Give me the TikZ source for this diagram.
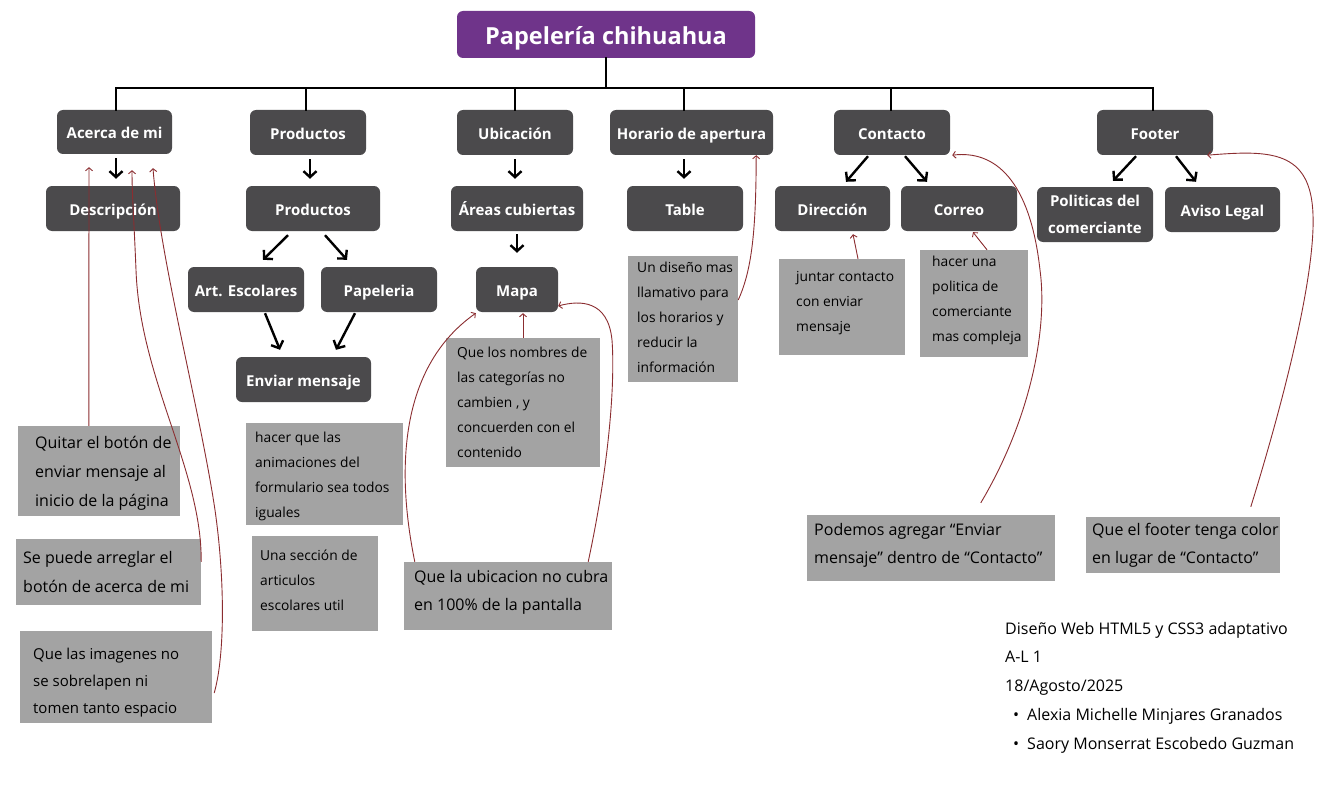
\documentclass[tikz,border=0pt]{standalone}
\usepackage{fontspec}
\setmainfont{Open Sans}
\usetikzlibrary{arrows.meta}
\definecolor{nodegray}{RGB}{75,74,76}
\definecolor{titlepurple}{RGB}{111,52,138}
\definecolor{notegray}{RGB}{163,163,163}
\definecolor{curvered}{RGB}{139,45,48}
\tikzset{
  boxbase/.style={fill=nodegray, rounded corners=6pt, text=white, inner sep=0pt, align=center,
    font=\bfseries\fontsize{15}{27}\selectfont},
  box/.style={boxbase, text height=13.5pt, text depth=0pt},
  titlebox/.style={fill=titlepurple, rounded corners=6pt, text=white, inner sep=0pt,
    font=\bfseries\fontsize{23.5}{27}\selectfont, text height=21pt, text depth=0pt},
  note/.style={fill=notegray, inner sep=0pt},
  ntxt/.style={anchor=north west, align=left, inner sep=0pt, text=black},
  fbig/.style={font=\fontsize{16}{29}\selectfont},
  fmid/.style={font=\fontsize{15}{27}\selectfont},
  fsmall/.style={font=\fontsize{13.8}{25}\selectfont},
  bus/.style={line width=2.8pt, line cap=rect},
  bk/.style={line width=2.4pt, -{Straight Barb[length=6pt,width=13pt]}},
  rd/.style={draw=curvered, line width=0.9pt, -{Straight Barb[length=3pt,width=7pt]}}
}
\begin{document}
\begin{tikzpicture}[x=1pt,y=-1pt]
\useasboundingbox[fill=white] (0,0) rectangle (1325,789);

% title
\node[titlebox, minimum width=298pt, minimum height=47pt] (title) at (606,34.5) {Papelería chihuahua};

% row 1
\node[box, minimum width=115pt, minimum height=44pt] (acerca) at (114.5,132) {Acerca de mi};
\node[box, minimum width=116pt, minimum height=45pt] (prod1) at (308,132.5) {Productos};
\node[box, minimum width=116pt, minimum height=45pt] (ubic) at (515,132.5) {Ubicación};
\node[box, minimum width=163pt, minimum height=45pt] (horario) at (691.5,132.5) {Horario de apertura};
\node[box, minimum width=116pt, minimum height=45pt] (contacto) at (892,132.5) {Contacto};
\node[box, minimum width=116pt, minimum height=45pt] (footer) at (1155,132.5) {Footer};

% row 2
\node[box, minimum width=134pt, minimum height=45pt] (desc) at (113,208.5) {Descripción};
\node[box, minimum width=134pt, minimum height=45pt] (prod2) at (313,208.5) {Productos};
\node[box, minimum width=132pt, minimum height=45pt] (areas) at (517,208.5) {Áreas cubiertas};
\node[box, minimum width=116pt, minimum height=45pt] (table) at (685,208.5) {Table};
\node[box, minimum width=115pt, minimum height=45pt] (dir) at (832.5,208.5) {Dirección};
\node[box, minimum width=116pt, minimum height=45pt] (correo) at (959,208.5) {Correo};
\node[boxbase, minimum width=116pt, minimum height=55pt] (polit) at (1095,214.5) {Politicas del\\comerciante};
\node[box, minimum width=115pt, minimum height=45pt] (aviso) at (1222.5,209.5) {Aviso Legal};

% row 3/4
\node[box, minimum width=116pt, minimum height=45pt] (art) at (246,289.5) {Art. Escolares};
\node[box, minimum width=116pt, minimum height=45pt] (papel) at (379,289.5) {Papeleria};
\node[box, minimum width=82pt, minimum height=45pt] (mapa) at (517,289.5) {Mapa};
\node[box, minimum width=135pt, minimum height=45pt] (enviar) at (303.5,379.5) {Enviar mensaje};

% bus
\coordinate (busL) at (116,88);
\draw[bus] ([xshift=1.5pt]acerca.north) -- ([xshift=1.5pt]acerca.north |- busL) -- ([xshift=-2pt]footer.north |- busL) -- ([xshift=-2pt]footer.north);
\draw[bus] (title.south) -- (title.south |- busL);
\draw[bus] ([xshift=-2pt]prod1.north) -- ([xshift=-2pt]prod1.north |- busL);
\draw[bus] (ubic.north) -- (ubic.north |- busL);
\draw[bus] ([xshift=-7.5pt]horario.north) -- ([xshift=-7.5pt]horario.north |- busL);
\draw[bus] ([xshift=-1pt]contacto.north) -- ([xshift=-1pt]contacto.north |- busL);

% black arrows
\draw[bk, shorten <=4pt, shorten >=7pt] ([xshift=1.5pt]acerca.south) -- ([xshift=3pt]desc.north);
\draw[bk, shorten <=4pt, shorten >=7pt] ([xshift=2pt]prod1.south) -- ([xshift=-3pt]prod2.north);
\draw[bk, shorten <=4pt, shorten >=7pt] (ubic.south) -- ([xshift=-2pt]areas.north);
\draw[bk, shorten <=4pt, shorten >=7pt] ([xshift=-7.5pt]horario.south) -- ([xshift=-1pt]table.north);
\draw[bk, shorten <=3pt, shorten >=14pt] (areas.south) -- (mapa.north);
\draw[bk] ([xshift=-24pt,yshift=-1pt]contacto.south) -- ([xshift=13.5pt,yshift=4pt]dir.north);
\draw[bk] ([xshift=13pt,yshift=-1pt]contacto.south) -- ([xshift=-32pt,yshift=4pt]correo.north);
\draw[bk] ([xshift=-19pt,yshift=-1pt]footer.south) -- ([xshift=18pt,yshift=6pt]polit.north);
\draw[bk] ([xshift=21pt,yshift=-1pt]footer.south) -- ([xshift=-26.5pt,yshift=5pt]aviso.north);
\draw[bk] ([xshift=-25pt,yshift=-4pt]prod2.south) -- ([xshift=17pt,yshift=7pt]art.north);
\draw[bk] ([xshift=12pt,yshift=-4pt]prod2.south) -- ([xshift=-32pt,yshift=7pt]papel.north);
\draw[bk] ([xshift=19pt,yshift=-1pt]art.south) -- ([xshift=-23.5pt,yshift=7pt]enviar.north);
\draw[bk] ([xshift=-24pt,yshift=-1pt]papel.south) -- ([xshift=32.5pt,yshift=7pt]enviar.north);

% notes
\node[note, minimum width=162pt, minimum height=90pt] (n1) at (99,471) {};
\node[ntxt, fbig] (n1t) at (35,428.2) {\strut Quitar el botón de\\enviar mensaje al\\inicio de la página};
\node[note, minimum width=185pt, minimum height=66pt] (n2) at (108.5,572) {};
\node[ntxt, fbig] (n2t) at (23,543.2) {\strut Se puede arreglar el\\botón de acerca de mi};
\node[note, minimum width=192pt, minimum height=92pt] (n3) at (116,677) {};
\node[ntxt, fmid] (n3t) at (33,640.1) {\strut Que las imagenes no\\se sobrelapen ni\\tomen tanto espacio};
\node[note, minimum width=157pt, minimum height=102pt] (n4) at (324.5,474) {};
\node[ntxt, fsmall] (n4t) at (255,425) {\strut hacer que las\\animaciones del\\formulario sea todos\\iguales};
\node[note, minimum width=126pt, minimum height=95pt] (n5) at (315,583.5) {};
\node[ntxt, fsmall] (n5t) at (260,543) {\strut Una sección de\\articulos\\escolares util};
\node[note, minimum width=154pt, minimum height=129pt] (n6) at (523,402.5) {};
\node[ntxt, fsmall] (n6t) at (457,340) {\strut Que los nombres de\\las categorías no\\cambien , y\\concuerden con el\\contenido};
\node[note, minimum width=208pt, minimum height=68pt] (n7) at (508,596) {};
\node[ntxt, font=\fontsize{16}{28}\selectfont] (n7t) at (414,562.9) {\strut Que la ubicacion no cubra\\en 100\% de la pantalla};
\node[note, minimum width=110pt, minimum height=126pt] (n8) at (683,319) {};
\node[ntxt, fsmall] (n8t) at (637,255) {\strut Un diseño mas\\llamativo para\\los horarios y\\reducir la\\información};
\node[note, minimum width=126pt, minimum height=96pt] (n9) at (842,307) {};
\node[ntxt, fsmall] (n9t) at (796,264) {\strut juntar contacto\\con enviar\\mensaje};
\node[note, minimum width=108pt, minimum height=107pt] (n10) at (974,303.5) {};
\node[ntxt, fsmall] (n10t) at (932,249) {\strut hacer una\\politica de\\comerciante\\mas compleja};
\node[note, minimum width=248pt, minimum height=66pt] (n11) at (931,548) {};
\node[ntxt, font=\fontsize{16}{28}\selectfont] (n11t) at (814,515.9) {\strut Podemos agregar “Enviar\\mensaje” dentro de “Contacto”};
\node[note, minimum width=194pt, minimum height=56pt] (n12) at (1183,545) {};
\node[ntxt, font=\fontsize{16}{28}\selectfont] (n12t) at (1092,515.9) {\strut Que el footer tenga color\\en lugar de “Contacto”};

% info
\node[ntxt, font=\fontsize{16}{28.75}\selectfont] (info) at (1005,613.9) {\strut Diseño Web HTML5 y CSS3 adaptativo\\A-L 1\\18/Agosto/2025\\\hspace*{8pt}•\hspace*{8pt}Alexia Michelle Minjares Granados\\\hspace*{8pt}•\hspace*{8pt}Saory Monserrat Escobedo Guzman};

% red curves
\draw[rd] ([xshift=71pt]n1.north west) -- ([xshift=-25.5pt,yshift=-13pt]acerca.south);
\draw[rd] ([yshift=-23pt]n2.north east) .. controls (202,470) and (140,380) .. (136,270) .. controls (134,220) and (132,195) .. ([xshift=17.5pt,yshift=-16pt]acerca.south);
\draw[rd] ([xshift=2pt,yshift=-16pt]n3.east) .. controls (225,655) and (225,580) .. (215,510) .. controls (200,410) and (160,260) .. ([xshift=38.5pt,yshift=-14pt]acerca.south);
\draw[rd] ([xshift=11pt]n7.north west) .. controls (398,480) and (395,370) .. ([yshift=-1pt]mapa.south west);
\draw[rd] ([xshift=-24pt]n7.north east) .. controls (610,460) and (615,380) .. (612,340) .. controls (608,300) and (580,300) .. ([yshift=-16.5pt]mapa.east);
\draw[rd] (n6.north) -- ([xshift=6pt,yshift=-1pt]mapa.south);
\draw[rd] ([yshift=19pt]n8.east) .. controls (752,270) and (756,230) .. ([xshift=-17pt]horario.south east);
\draw[rd] ([xshift=16pt]n9.north) -- ([xshift=20.5pt,yshift=-3pt]dir.south);
\draw[rd] ([xshift=13pt]n10.north) -- ([xshift=14pt,yshift=-1pt]correo.south);
\draw[rd] ([xshift=174pt,yshift=12pt]n11.north west) .. controls (1030,420) and (1048,330) .. (1040,270) .. controls (1030,180) and (995,150) .. ([xshift=2pt]contacto.south east);
\draw[rd] ([xshift=165pt,yshift=10pt]n12.north west) .. controls (1290,380) and (1315,270) .. (1313,215) .. controls (1311,150) and (1270,150) .. ([xshift=-6pt]footer.south east);
\end{tikzpicture}
\end{document}
